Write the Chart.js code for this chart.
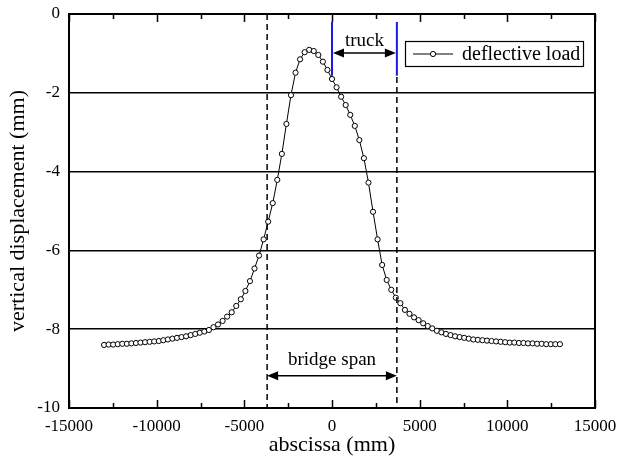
<!DOCTYPE html>
<html>
<head>
<meta charset="utf-8">
<script src="https://cdn.jsdelivr.net/npm/chart.js@4.4.1/dist/chart.umd.min.js"></script>
<style>
  html, body { margin: 0; padding: 0; background: #fff; }
</style>
</head>
<body>
<canvas id="chart" width="617" height="468"></canvas>
<script>
// node positions along the road (mm)
const abscissa = [
  -13000, -12740, -12480, -12220, -11960, -11700, -11440, -11180, -10920, -10660,
  -10400, -10140, -9880, -9620, -9360, -9100, -8840, -8580, -8320, -8060,
  -7800, -7540, -7280, -7020, -6760, -6500, -6240, -5980, -5720, -5460,
  -5200, -4940, -4680, -4420, -4160, -3900, -3640, -3380, -3120, -2860,
  -2600, -2340, -2080, -1820, -1560, -1300, -1040, -780, -520, -260,
  0,
  260, 520, 780, 1040, 1300, 1560, 1820, 2080, 2340, 2600,
  2860, 3120, 3380, 3640, 3900, 4160, 4420, 4680, 4940, 5200,
  5460, 5720, 5980, 6240, 6500, 6760, 7020, 7280, 7540, 7800,
  8060, 8320, 8580, 8840, 9100, 9360, 9620, 9880, 10140, 10400,
  10660, 10920, 11180, 11440, 11700, 11960, 12220, 12480, 12740, 13000
]

// vertical displacement (mm)
const deflection = [
  -8.40, -8.39, -8.39, -8.38, -8.37, -8.37, -8.36, -8.35, -8.34, -8.33,
  -8.32, -8.31, -8.30, -8.28, -8.26, -8.24, -8.22, -8.20, -8.18, -8.15,
  -8.12, -8.09, -8.06, -8.02, -7.95, -7.88, -7.79, -7.68, -7.57, -7.41,
  -7.24, -7.03, -6.78, -6.46, -6.13, -5.72, -5.27, -4.80, -4.21, -3.55,
  -2.79, -2.06, -1.49, -1.15, -0.97, -0.91, -0.94, -1.04, -1.21, -1.42,
  -1.65,
  -1.86, -2.10, -2.31, -2.56, -2.84, -3.20, -3.66, -4.28, -5.02, -5.72,
  -6.37, -6.75, -7.00, -7.20, -7.34, -7.51, -7.61, -7.70, -7.77, -7.85,
  -7.92, -7.98, -8.04, -8.08, -8.12, -8.15, -8.18, -8.20, -8.22, -8.24,
  -8.26, -8.27, -8.28, -8.29, -8.30, -8.31, -8.32, -8.33, -8.34, -8.34,
  -8.35, -8.35, -8.36, -8.36, -8.37, -8.37, -8.38, -8.38, -8.38, -8.38
]

const bridgeSpan = [-3700, 3700]
const truck = [0, 3700]
const seriesLabel = 'deflective load'

const SERIF = '"Liberation Serif", "Times New Roman", serif'

function arrowHead (ctx, x, y, dir) {
  ctx.beginPath()
  ctx.moveTo(x, y)
  ctx.lineTo(x + dir * 11, y - 4.5)
  ctx.lineTo(x + dir * 11, y + 4.5)
  ctx.closePath()
  ctx.fill()
}

function doubleArrow (ctx, x1, x2, y) {
  ctx.beginPath()
  ctx.moveTo(x1 + 6, y)
  ctx.lineTo(x2 - 6, y)
  ctx.stroke()
  arrowHead(ctx, x1, y, 1)
  arrowHead(ctx, x2, y, -1)
}

const decorations = {
  id: 'decorations',
  afterDatasetsDraw (chart) {
    const { ctx, chartArea: a, scales: { x, y } } = chart
    ctx.save()
    ctx.strokeStyle = '#000'
    ctx.fillStyle = '#000'

    // inward ticks on bottom and top
    ctx.lineWidth = 1.5
    for (let v = -15000; v <= 15000; v += 2500) {
      const px = Math.round(x.getPixelForValue(v)) + 0.5
      const len = v % 5000 === 0 ? 8 : 5
      ctx.beginPath()
      ctx.moveTo(px, a.bottom)
      ctx.lineTo(px, a.bottom - len)
      ctx.moveTo(px, a.top)
      ctx.lineTo(px, a.top + len)
      ctx.stroke()
    }

    // bridge span dashed lines
    ctx.lineWidth = 1.5
    ctx.setLineDash([6, 4])
    const xl = x.getPixelForValue(bridgeSpan[0])
    const xr = x.getPixelForValue(bridgeSpan[1])
    ctx.beginPath()
    ctx.moveTo(xl, a.top)
    ctx.lineTo(xl, a.bottom)
    ctx.moveTo(xr, y.getPixelForValue(-1.6))
    ctx.lineTo(xr, a.bottom)
    ctx.stroke()
    ctx.setLineDash([])

    // bridge span arrow
    ctx.lineWidth = 1.5
    const ySpan = y.getPixelForValue(-9.18)
    doubleArrow(ctx, xl, xr, ySpan)
    ctx.font = '19px ' + SERIF
    ctx.textAlign = 'center'
    ctx.textBaseline = 'alphabetic'
    ctx.fillText('bridge span', (xl + xr) / 2, y.getPixelForValue(-8.9))

    // truck
    const t0 = x.getPixelForValue(truck[0])
    const t1 = x.getPixelForValue(truck[1])
    ctx.strokeStyle = '#1a1ae6'
    ctx.lineWidth = 2
    ctx.beginPath()
    ctx.moveTo(t0, y.getPixelForValue(-0.2))
    ctx.lineTo(t0, y.getPixelForValue(-1.57))
    ctx.moveTo(t1, y.getPixelForValue(-0.2))
    ctx.lineTo(t1, y.getPixelForValue(-1.57))
    ctx.stroke()
    ctx.strokeStyle = '#000'
    ctx.lineWidth = 1.5
    doubleArrow(ctx, t0 + 1, t1 - 1, y.getPixelForValue(-0.99))
    ctx.fillText('truck', (t0 + t1) / 2, y.getPixelForValue(-0.82))

    // legend box
    const lx = a.right - 190
    const ly = a.top + 27
    ctx.lineWidth = 1.2
    ctx.strokeRect(lx + 0.5, ly + 0.5, 178, 25)
    ctx.lineWidth = 1
    ctx.beginPath()
    ctx.moveTo(lx + 8, ly + 13)
    ctx.lineTo(lx + 48, ly + 13)
    ctx.stroke()
    ctx.beginPath()
    ctx.arc(lx + 28, ly + 13, 2.6, 0, Math.PI * 2)
    ctx.fillStyle = '#fff'
    ctx.fill()
    ctx.stroke()
    ctx.fillStyle = '#000'
    ctx.font = '20px ' + SERIF
    ctx.textAlign = 'left'
    ctx.fillText(seriesLabel, lx + 57, ly + 19)

    // frame
    ctx.lineWidth = 2
    ctx.strokeRect(a.left, a.top, a.right - a.left, a.bottom - a.top)
    ctx.restore()
  }
}

new Chart(document.getElementById('chart').getContext('2d'), {
  type: 'line',
  data: {
    datasets: [
      {
        label: seriesLabel,
        data: abscissa.map((v, i) => ({ x: v, y: deflection[i] })),
        borderColor: '#000',
        borderWidth: 1,
        tension: 0,
        pointRadius: 2.6,
        pointBorderWidth: 1,
        pointBorderColor: '#000',
        pointBackgroundColor: '#fff'
      }
    ]
  },
  options: {
    responsive: false,
    animation: false,
    layout: { padding: { top: 14, right: 22, left: 0, bottom: 0 } },
    plugins: {
      legend: { display: false },
      tooltip: { enabled: false }
    },
    scales: {
      x: {
        type: 'linear',
        min: -15000,
        max: 15000,
        grid: { display: false, drawTicks: false },
        border: { display: false },
        ticks: {
          stepSize: 5000,
          padding: 8,
          color: '#000',
          font: { family: SERIF, size: 17 },
          maxRotation: 0,
          callback: (v) => String(v)
        },
        title: {
          display: true,
          text: 'abscissa (mm)',
          color: '#000',
          font: { family: SERIF, size: 22 },
          padding: { top: 0, bottom: 10 }
        },
        afterFit: (scale) => {
          scale.height = 60
          scale.paddingLeft = 0
          scale.paddingRight = 0
        }
      },
      y: {
        min: -10,
        max: 0,
        grid: { color: '#000', lineWidth: 1.5, drawTicks: false },
        border: { display: false },
        ticks: {
          stepSize: 2,
          padding: 9,
          color: '#000',
          font: { family: SERIF, size: 17 }
        },
        title: {
          display: true,
          text: 'vertical displacement (mm)',
          color: '#000',
          font: { family: SERIF, size: 22 },
          padding: { top: 5, bottom: 0 }
        },
        afterFit: (scale) => {
          scale.width = 69
          scale.paddingTop = 0
          scale.paddingBottom = 0
        }
      }
    }
  },
  plugins: [decorations]
})
</script>
</body>
</html>
